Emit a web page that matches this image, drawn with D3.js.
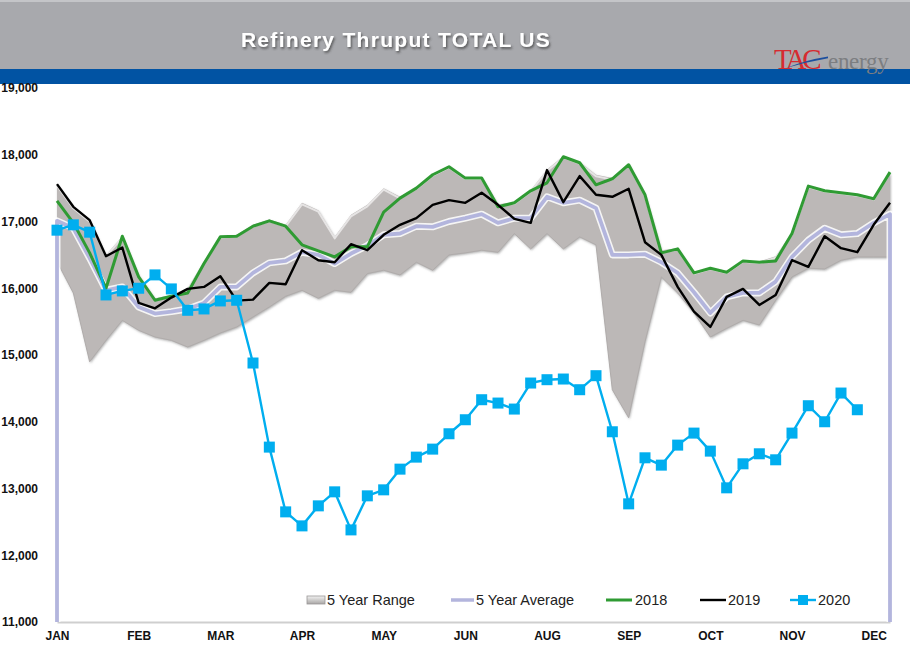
<!DOCTYPE html>
<html>
<head>
<meta charset="utf-8">
<script src="https://cdn.jsdelivr.net/npm/d3@7"></script>
<style>
  html, body { margin: 0; padding: 0; background: #fff; }
  svg { display: block; }
</style>
</head>
<body>
<svg id="chart" width="910" height="659"></svg>
<script>
// ---- DATA (weekly, week index 0..51) ----
const monthLabels = ["JAN","FEB","MAR","APR","MAY","JUN","AUG","SEP","OCT","NOV","DEC"];
const monthTickWeeks = [0,5,10,15,20,25,30,35,40,45,50];
const yTicks = [11000,12000,13000,14000,15000,16000,17000,18000,19000];

const rangeMax = [17560,17220,17020,16500,16780,16200,15850,15900,16000,16400,16780,16800,16950,17030,16950,
  17280,17170,16770,17100,17250,17500,17370,17510,17710,17830,17660,17660,17260,17290,17470,17780,17980,17890,17700,17650,
  17860,17410,16570,16600,16240,16310,16250,16420,16400,16480,16830,17540,17470,17440,17410,17350,17750];
const rangeMin = [16400,15930,14900,15220,15520,15370,15270,15220,15120,15220,15330,15420,15570,15720,15880,
  15970,15850,15970,15940,16220,16270,16200,16390,16270,16500,16530,16570,16540,16820,16590,16820,16590,16770,16650,14480,
  14060,15200,16170,15930,15630,15270,15400,15520,15450,15820,16170,16300,16290,16420,16470,16470,16470];
const avg5 = [17010,16900,16450,15970,16020,15720,15620,15650,15690,15780,16020,16020,16230,16380,16410,16540,16500,
  16370,16520,16640,16800,16820,16930,16920,17000,17050,17110,16980,17050,17050,17370,17280,17320,17200,16500,
  16500,16510,16390,16230,15940,15630,15870,15930,15930,16100,16470,16720,16900,16800,16820,16980,17110];
const y2018 = [17310,16980,16530,16000,16780,16170,15820,15880,15930,16370,16770,16780,16930,17010,16930,
  16650,16560,16470,16620,16620,17140,17350,17500,17700,17820,17650,17650,17220,17280,17460,17580,17970,17880,17550,17640,
  17850,17400,16530,16590,16230,16300,16240,16410,16390,16410,16820,17530,17460,17430,17400,17340,17740];
const y2019 = [17560,17220,17020,16480,16610,15780,15700,15860,15990,16020,16180,15815,15830,16080,16060,
  16570,16420,16390,16660,16570,16800,16950,17050,17250,17320,17280,17430,17250,17040,16980,17770,17290,17680,17400,17370,
  17490,16690,16500,16020,15650,15420,15870,15990,15750,15900,16420,16320,16780,16600,16540,16950,17280];
const y2020 = [16870,16950,16840,15900,15960,16000,16200,15990,15670,15690,15810,15820,14880,13620,12650,12440,12740,12950,12380,12890,
  12980,13290,13470,13590,13820,14030,14330,14280,14190,14580,14630,14640,14480,14690,13850,12770,13460,13350,13650,13830,
  13560,13010,13370,13520,13430,13830,14240,14000,14430,14180];

// ---- LAYOUT ----
const svg = d3.select("#chart");
const W = 910, H = 659;
const x = d3.scaleLinear().domain([0, 51]).range([57, 890]);
const y = d3.scaleLinear().domain([11000, 19000]).range([622, 88]);

const defs = svg.append("defs");
const sh = defs.append("filter").attr("id","tshadow").attr("x","-10%").attr("y","-30%").attr("width","120%").attr("height","160%");
sh.append("feDropShadow").attr("dx",1.2).attr("dy",1.8).attr("stdDeviation",1).attr("flood-color","#3a3a3a").attr("flood-opacity",0.75);
const ash = defs.append("filter").attr("id","ashadow").attr("x","-5%").attr("y","-5%").attr("width","110%").attr("height","115%");
ash.append("feDropShadow").attr("dx",0.8).attr("dy",1.5).attr("stdDeviation",1.2).attr("flood-color","#777").attr("flood-opacity",0.6);
const lg = defs.append("linearGradient").attr("id","legRange").attr("x1",0).attr("y1",0).attr("x2",0).attr("y2",1);
lg.append("stop").attr("offset","0%").attr("stop-color","#f2f2f2");
lg.append("stop").attr("offset","100%").attr("stop-color","#a9a6a5");

// ---- HEADER ----
svg.append("rect").attr("x",0).attr("y",0).attr("width",W).attr("height",69).attr("fill","#a8a9ad");
svg.append("rect").attr("x",0).attr("y",0).attr("width",W).attr("height",2).attr("fill","#c4c5c8");
svg.append("rect").attr("x",0).attr("y",69).attr("width",W).attr("height",15).attr("fill","#0153a3");
svg.append("text").attr("x",396).attr("y",47).attr("text-anchor","middle")
  .attr("font-family","Liberation Sans, Arial, sans-serif").attr("font-weight","bold")
  .attr("font-size",21).attr("letter-spacing","1.3px").attr("fill","#fff").attr("filter","url(#tshadow)")
  .text("Refinery Thruput TOTAL US");

// logo
const logo = svg.append("g");
logo.append("text").attr("x",774).attr("y",69).attr("font-family","Liberation Serif, Times New Roman, serif")
  .attr("font-size",29).attr("fill","#d62b30").attr("letter-spacing","-4px").text("TAC");
logo.append("path").attr("d","M786,68 Q806,60 828,56.5 L828,58.3 Q807,62 786,68 Z").attr("fill","#1d4f9e");
logo.append("text").attr("x",828).attr("y",69).attr("font-family","Liberation Serif, Times New Roman, serif")
  .attr("font-size",23).attr("fill","#7c7e81").attr("letter-spacing","-0.3px").text("energy");

// ---- PLOT ----
const g = svg.append("g");

// 5 year range area
const area = d3.area().x((d,i)=>x(i)).y0((d,i)=>y(rangeMin[i])).y1(d=>y(d));
g.append("path").datum(rangeMax).attr("d",area).attr("fill","#bcb8b7").attr("filter","url(#ashadow)");
g.append("path").datum(rangeMax)
  .attr("d", d3.line().x((d,i)=>x(i)).y(d=>y(d)+1.5))
  .attr("fill","none").attr("stroke","#e6e4e4").attr("stroke-width",2).attr("stroke-linejoin","round");
g.append("path").datum(rangeMin)
  .attr("d", d3.line().x((d,i)=>x(i)).y(d=>y(d)))
  .attr("fill","none").attr("stroke","#b0acab").attr("stroke-width",1);

// x axis
const xAxis = d3.axisBottom(x).tickValues(monthTickWeeks)
  .tickFormat((d,i)=>monthLabels[i]).tickSize(0).tickPadding(9);
const gx = g.append("g").attr("transform",`translate(0,${y(11000)})`).call(xAxis);
gx.select(".domain").attr("stroke","#cfcfcf").attr("stroke-width",2);
gx.selectAll("text").attr("font-family","Liberation Sans, Arial, sans-serif").attr("font-weight","bold")
  .attr("font-size",12).attr("fill","#111");

// y axis
const yAxis = d3.axisLeft(y).tickValues(yTicks).tickFormat(d3.format(",")).tickSize(0).tickPadding(19);
const gy = g.append("g").attr("transform",`translate(${x(0)},0)`).call(yAxis);
gy.select(".domain").remove();
gy.selectAll("text").attr("font-family","Liberation Sans, Arial, sans-serif").attr("font-weight","bold")
  .attr("font-size",12).attr("fill","#111");

// 5 year average (with halo), including Excel-style drop to axis at both ends
const avgPts = [[x(0), y(11000)]].concat(avg5.map((d,i)=>[x(i), y(d)])).concat([[x(51), y(11000)]]);
const lineXY = d3.line();
g.append("path").attr("d", lineXY(avgPts)).attr("fill","none").attr("stroke","#ffffff")
  .attr("stroke-opacity",0.85).attr("stroke-width",7).attr("stroke-linejoin","round");
g.append("path").attr("d", lineXY(avgPts)).attr("fill","none").attr("stroke","#b3b5dd")
  .attr("stroke-width",3.8).attr("stroke-linejoin","round");

const ln = d3.line().x((d,i)=>x(i)).y(d=>y(d));
g.append("path").datum(y2018).attr("d",ln).attr("fill","none").attr("stroke","#2f9b33").attr("stroke-width",3).attr("stroke-linejoin","round");
g.append("path").datum(y2019).attr("d",ln).attr("fill","none").attr("stroke","#000").attr("stroke-width",2.4).attr("stroke-linejoin","round");
g.append("path").datum(y2020).attr("d",ln).attr("fill","none").attr("stroke","#00aeef").attr("stroke-width",2.4).attr("stroke-linejoin","round");
const ms = 11;
g.selectAll("rect.m20").data(y2020).join("rect").attr("class","m20")
  .attr("x",(d,i)=>x(i)-ms/2).attr("y",d=>y(d)-ms/2).attr("width",ms).attr("height",ms).attr("fill","#00aeef");

// ---- LEGEND ----
const leg = svg.append("g").attr("font-family","Liberation Sans, Arial, sans-serif").attr("font-size",14.5).attr("fill","#222");
const ly = 600;
leg.append("rect").attr("x",307).attr("y",ly-4).attr("width",18).attr("height",8).attr("fill","url(#legRange)").attr("stroke","#9a9797").attr("stroke-width",0.8);
leg.append("text").attr("x",327).attr("y",ly+5).text("5 Year Range");
leg.append("line").attr("x1",451).attr("x2",474).attr("y1",ly).attr("y2",ly).attr("stroke","#b3b5dd").attr("stroke-width",3.5);
leg.append("text").attr("x",476).attr("y",ly+5).text("5 Year Average");
leg.append("line").attr("x1",606).attr("x2",632).attr("y1",ly).attr("y2",ly).attr("stroke","#2f9b33").attr("stroke-width",3);
leg.append("text").attr("x",635).attr("y",ly+5).text("2018");
leg.append("line").attr("x1",700).attr("x2",726).attr("y1",ly).attr("y2",ly).attr("stroke","#000").attr("stroke-width",2.4);
leg.append("text").attr("x",728).attr("y",ly+5).text("2019");
leg.append("line").attr("x1",790).attr("x2",816).attr("y1",ly).attr("y2",ly).attr("stroke","#00aeef").attr("stroke-width",2.4);
leg.append("rect").attr("x",798).attr("y",ly-5).attr("width",10).attr("height",10).attr("fill","#00aeef");
leg.append("text").attr("x",818).attr("y",ly+5).text("2020");
</script>
</body>
</html>
